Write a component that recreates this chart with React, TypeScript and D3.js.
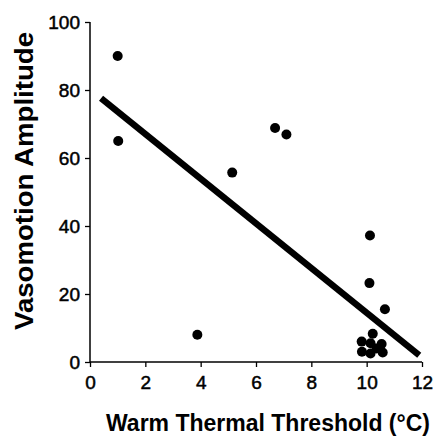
import React, { useEffect, useRef } from "react";
import * as d3 from "d3";

const thresholdX = [1.0, 1.02, 3.88, 5.14, 6.69, 7.1, 10.12, 10.1, 10.66, 10.22, 9.82, 10.54, 9.83, 10.14, 10.58, 10.14, 10.36];
const amplitudeY = [90, 65, 8, 55.7, 68.8, 66.9, 37.2, 23.2, 15.5, 8.3, 6.0, 5.3, 3.0, 2.5, 2.8, 5.5, 4.0];
const fitX = [0.4, 11.9];
const fitY = [77.6, 2.0];
const xTicks = [0, 2, 4, 6, 8, 10, 12];
const yTicks = [0, 20, 40, 60, 80, 100];

const W = 437;
const H = 436;

export default function App() {
  const ref = useRef<SVGSVGElement | null>(null);

  useEffect(() => {
    const svg = d3.select(ref.current);
    svg.selectAll("*").remove();
    const x = d3.scaleLinear().domain([0, 12]).range([90, 422]);
    const y = d3.scaleLinear().domain([0, 100]).range([362, 22]);
    const font = "'Liberation Sans', Arial, Helvetica, sans-serif";

    const gx = svg.append("g").attr("transform", `translate(0,${y(0)})`)
      .call(d3.axisBottom(x).tickValues(xTicks).tickSize(5).tickPadding(9).tickFormat(d3.format("d")));
    const gy = svg.append("g").attr("transform", `translate(${x(0)},0)`)
      .call(d3.axisLeft(y).tickValues(yTicks).tickSize(5).tickPadding(5).tickFormat(d3.format("d")));
    [gx, gy].forEach((g) => {
      g.select(".domain").attr("stroke", "#000").attr("stroke-width", 1.5);
      g.selectAll(".tick line").attr("stroke", "#000").attr("stroke-width", 1.3);
      g.selectAll(".tick text").attr("fill", "#000").attr("font-family", font).attr("font-size", 19)
        .attr("stroke", "#000").attr("stroke-width", 0.5);
    });
    gx.select(".domain").attr("d", `M${x(0)},0H${x(12)}`);
    gy.select(".domain").attr("d", `M0,${y(0)}V${y(100)}`);

    const line = d3.line<number>().x((_, i) => x(fitX[i])).y((_, i) => y(fitY[i]));
    svg.append("path").datum(fitX).attr("d", line as any)
      .attr("stroke", "#000").attr("stroke-width", 6.5).attr("fill", "none");

    svg.append("g").selectAll("circle").data(thresholdX).join("circle")
      .attr("cx", (d) => x(d)).attr("cy", (_, i) => y(amplitudeY[i]))
      .attr("r", 5).attr("fill", "#000");

    svg.append("text").attr("x", 268).attr("y", 431).attr("text-anchor", "middle")
      .attr("font-family", font).attr("font-weight", "bold").attr("font-size", 23)
      .attr("fill", "#000").text("Warm Thermal Threshold (°C)");

    svg.append("text").attr("transform", `translate(33,181) rotate(-90)`).attr("text-anchor", "middle")
      .attr("font-family", font).attr("font-weight", "bold").attr("font-size", 26)
      .attr("textLength", 298).attr("lengthAdjust", "spacingAndGlyphs")
      .attr("fill", "#000").text("Vasomotion Amplitude");
  }, []);

  return (
    <svg ref={ref} width={W} height={H} style={{ display: "block", position: "absolute", left: 0, top: 0, background: "#fff" }} />
  );
}
